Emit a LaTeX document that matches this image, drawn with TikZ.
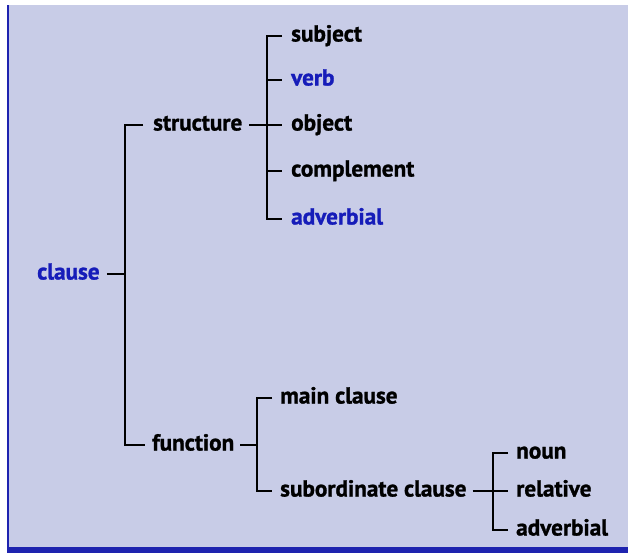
\documentclass[tikz,border=0pt]{standalone}
\usepackage{fontspec}
\setmainfont{PT Sans}[BoldFeatures={FakeBold=1.2}]
\usetikzlibrary{calc}
\definecolor{bgc}{RGB}{200,204,231}
\definecolor{txtblue}{RGB}{22,28,185}
\definecolor{edgeblue}{RGB}{30,35,175}
\tikzset{
  lbl/.style={anchor=west, inner sep=0pt, text height=16pt, text depth=5pt,
    font=\fontsize{23.2}{27}\selectfont\bfseries, text=black},
  blu/.style={lbl, text=txtblue},
  conn/.style={line width=2pt, draw=black},
}
\begin{document}
\begin{tikzpicture}[x=1pt,y=-1pt]
\useasboundingbox (0,0) rectangle (628,555);
\fill[white] (0,0) rectangle (628,555);
\fill[bgc] (8,5) rectangle (628,548);
\fill[edgeblue] (6.5,5) rectangle (9,553);
\fill[edgeblue] (9,547) rectangle (628,553);

\node[blu] (clause) at (37,274) {clause};
\node[lbl] (structure) at (153,125) {structure};
\node[lbl] (function) at (152,445) {function};
\node[lbl] (subject) at (291,36) {subject};
\node[blu] (verb) at (291,80) {verb};
\node[lbl] (object) at (291,125) {object};
\node[lbl] (complement) at (291,171) {complement};
\node[blu] (adverbial) at (291,219) {adverbial};
\node[lbl] (mainclause) at (280,398) {main clause};
\node[lbl] (subclause) at (280,491) {subordinate clause};
\node[lbl] (noun) at (516,453) {noun};
\node[lbl] (relative) at (516,491) {relative};
\node[lbl] (adverbialb) at (516,530) {adverbial};

\coordinate (J1) at (125,0);
\coordinate (J2) at (267,0);
\coordinate (J3) at (257,0);
\coordinate (J4) at (493,0);

\draw[conn] ($(clause.east)+(7,0)$) -- (clause.east -| J1);
\draw[conn] ($(structure.west)+(-10,0)$) -- (structure.west -| J1) -- (function.west -| J1) -- ($(function.west)+(-7,0)$);

\draw[conn] ($(structure.east)+(7,0)$) -- ($(object.west)+(-9,0)$);
\draw[conn] ($(subject.west)+(-9,0)$) -- (subject.west -| J2) -- (adverbial.west -| J2) -- ($(adverbial.west)+(-9,0)$);
\draw[conn] (verb.west -| J2) -- ($(verb.west)+(-9,0)$);
\draw[conn] (complement.west -| J2) -- ($(complement.west)+(-9,0)$);

\draw[conn] ($(function.east)+(6,0)$) -- (function.east -| J3);
\draw[conn] ($(mainclause.west)+(-8,0)$) -- (mainclause.west -| J3) -- (subclause.west -| J3) -- ($(subclause.west)+(-8,0)$);

\draw[conn] ($(subclause.east)+(6,0)$) -- ($(relative.west)+(-8,0)$);
\draw[conn] ($(noun.west)+(-8,0)$) -- (noun.west -| J4) -- (adverbialb.west -| J4) -- ($(adverbialb.west)+(-8,0)$);
\end{tikzpicture}
\end{document}
